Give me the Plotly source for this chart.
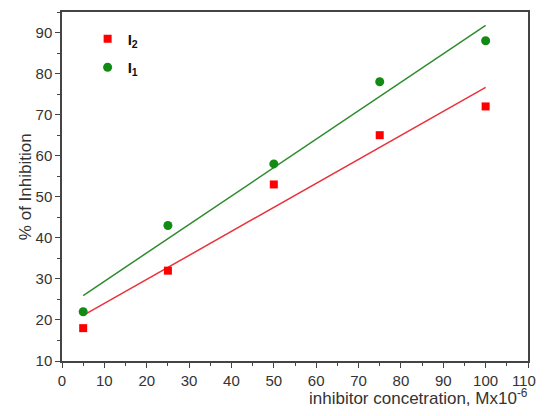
import numpy as np
import plotly.graph_objects as go

conc = [5, 25, 50, 75, 100]
inh_I2 = [18, 32, 53, 65, 72]
inh_I1 = [22, 43, 58, 78, 88]
x_ticks = list(range(0, 111, 10))
y_ticks = list(range(10, 91, 10))

def fit(x, y):
    k, b = np.polyfit(x, y, 1)
    xs = [min(x), max(x)]
    return xs, [k * v + b for v in xs]

# last x label nudged left (as in the original) so it stays inside the window
x_ticktext = [str(v) for v in x_ticks]
x_ticktext[-1] = x_ticktext[-1] + "\u00a0\u00a0"

fig = go.Figure()
fx, fy = fit(conc, inh_I2)
fig.add_trace(go.Scatter(x=fx, y=fy, mode="lines", line=dict(color="#e8323c", width=1.5), showlegend=False))
fx, fy = fit(conc, inh_I1)
fig.add_trace(go.Scatter(x=fx, y=fy, mode="lines", line=dict(color="#2e8b2e", width=1.5), showlegend=False))
fig.add_trace(go.Scatter(x=conc, y=inh_I2, mode="markers", name="<b>I<sub>2</sub></b>", legendgroup="a",
                         marker=dict(symbol="square", color="#ff0000", size=8)))
fig.add_trace(go.Scatter(x=conc, y=inh_I1, mode="markers", name="<b>I<sub>1</sub></b>", legendgroup="b",
                         marker=dict(symbol="circle", color="#138a13", size=9)))

axis_common = dict(showline=True, linecolor="#444", linewidth=1.5, mirror=True,
                   ticks="outside", ticklen=5, tickcolor="#444", tickwidth=1.2,
                   showgrid=False, zeroline=False, ticklabeloverflow="allow", automargin=False,
                   tickfont=dict(size=15, color="#333"),
                   minor=dict(ticks="outside", ticklen=3, tickcolor="#444", dtick=5))

fig.update_xaxes(range=[0, 110], tickvals=x_ticks, ticktext=x_ticktext, **axis_common)
fig.update_yaxes(range=[10, 95], tickvals=y_ticks, **axis_common)

fig.add_annotation(x=1, y=-0.104, xref="paper", yref="paper", xanchor="right", yanchor="middle",
                   xshift=2, text="inhibitor concetration, Mx10<sup>-6</sup>", showarrow=False,
                   font=dict(size=17, color="#333"))
fig.add_annotation(x=-0.078, y=0.5, xref="paper", yref="paper", xanchor="center", yanchor="middle",
                   textangle=-90, text="% of Inhibition", showarrow=False,
                   font=dict(size=17, color="#333"))

fig.update_layout(
    width=530, height=400,
    margin=dict(l=54, r=10, t=4, b=47, autoexpand=False),
    paper_bgcolor="white", plot_bgcolor="white",
    font=dict(family="Liberation Sans, Arial, sans-serif", color="#333"),
    legend=dict(x=0.055, y=0.97, xanchor="left", yanchor="top", bgcolor="rgba(0,0,0,0)",
                font=dict(size=15, color="#111"), tracegroupgap=6, itemwidth=30),
)

fig.write_html("out.html")
